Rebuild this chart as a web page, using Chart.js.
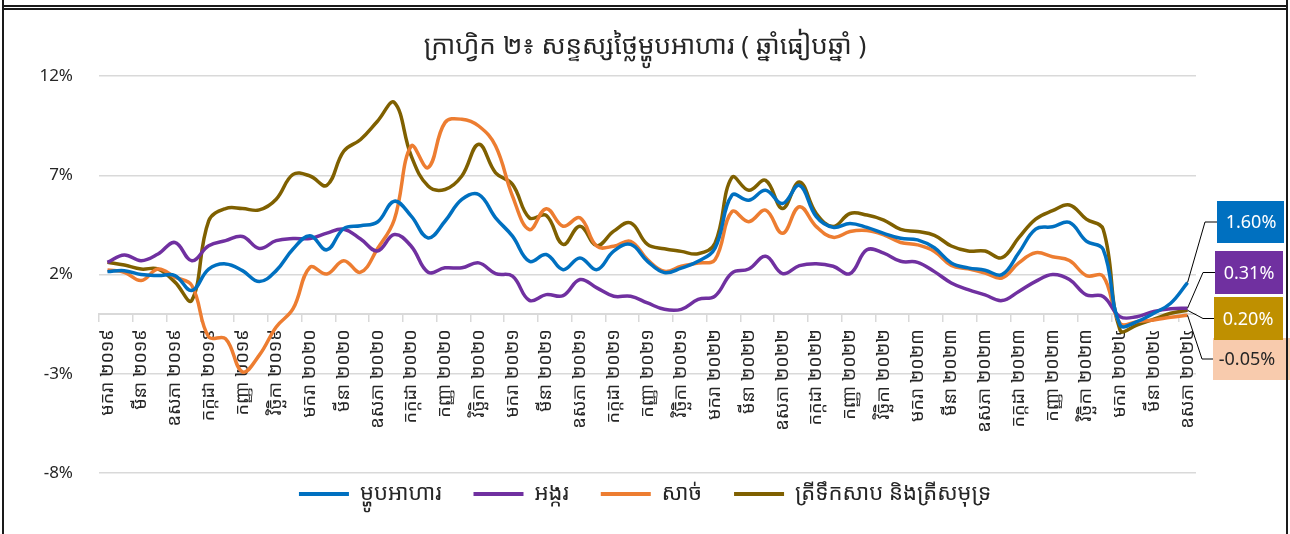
<!DOCTYPE html>
<html>
<head>
<meta charset="utf-8">
<script src="https://cdn.jsdelivr.net/npm/chart.js@4"></script>
<style>
body { margin: 0; background: #fff; }
#wrap { position: relative; width: 1290px; height: 534px; overflow: hidden; }
.ln { position: absolute; background: #1a1a1a; }
</style>
</head>
<body>
<div id="wrap">
  <canvas id="mainCanvas" width="1290" height="534"></canvas>
  <div class="ln" style="left:2px;top:0;width:2px;height:534px"></div>
  <div class="ln" style="left:1286px;top:0;width:2px;height:534px"></div>
  <div class="ln" style="left:2px;top:5px;width:1286px;height:1.5px"></div>
  <div class="ln" style="left:2px;top:8px;width:1286px;height:1.5px"></div>
</div>
<script>
// months Jan 2019 .. May 2024
var months = ['មករា','កុម្ភៈ','មីនា','មេសា','ឧសភា','មិថុនា','កក្កដា','សីហា','កញ្ញា','តុលា','វិច្ឆិកា','ធ្នូ'];
var years = ['២០១៩','២០២០','២០២១','២០២២','២០២៣','២០២៤'];
var labels = [];
for (let y = 0; y < years.length; y++) {
    for (let m = 0; m < 12; m++) {
        if (y === 5 && m > 4) break;
        labels.push(months[m] + ' ' + years[y]);
    }
}

var seriesNames = ['ម្ហូបអាហារ', 'អង្ករ', 'សាច់', 'ត្រីទឹកសាប និងត្រីសមុទ្រ'];

var food = [2.15,2.2,2.0,1.95,1.95,1.2,2.28,2.54,2.2,1.65,2.2,3.29,
            3.96,3.25,4.32,4.46,4.65,5.70,4.95,3.85,4.69,5.79,6.04,4.86,
            3.94,2.67,3.01,2.25,2.84,2.25,3.18,3.52,2.67,2.1,2.33,2.67,
            3.33,6.0,5.75,6.25,5.58,6.5,4.92,4.38,4.58,4.38,4.08,3.83,
            3.75,3.35,2.59,2.34,2.22,2.0,3.10,4.29,4.41,4.63,3.69,3.27,
            -0.54,-0.37,0.05,0.56,1.60];
var rice = [2.62,2.99,2.70,3.04,3.62,2.70,3.45,3.71,3.92,3.32,3.71,3.82,
            3.82,4.09,4.29,3.79,3.19,4.02,3.43,2.12,2.34,2.34,2.59,2.05,
            1.92,0.70,0.99,0.94,1.75,1.33,0.91,0.91,0.57,0.25,0.25,0.75,
            0.92,2.08,2.28,2.92,2.05,2.45,2.55,2.42,2.05,3.25,3.08,2.67,
            2.62,2.15,1.58,1.24,0.98,0.69,1.15,1.66,2.0,1.75,0.98,0.90,
            -0.12,-0.12,0.14,0.28,0.31];
var meat = [2.23,2.12,1.70,2.28,1.87,1.45,-1.14,-1.23,-2.90,-2.06,-0.64,0.28,
            2.37,2.03,2.70,2.12,3.3,4.78,8.48,7.39,9.66,9.83,9.49,8.48,
            5.96,4.27,5.32,4.44,4.86,3.43,3.43,3.68,2.76,2.17,2.42,2.58,
            2.75,5.17,4.67,5.25,4.08,5.42,4.42,3.88,4.17,4.22,4.0,3.62,
            3.5,3.17,2.46,2.29,2.08,1.83,2.59,3.10,2.90,2.71,1.95,1.92,
            -0.46,-0.37,-0.29,-0.15,-0.05];
var fish = [2.62,2.48,2.28,2.28,1.62,0.70,4.71,5.33,5.33,5.26,5.80,7.05,
            6.97,6.50,8.22,8.81,9.73,10.67,7.98,6.46,6.29,6.97,8.57,7.13,
            6.55,4.86,4.98,3.52,4.44,3.46,4.19,4.61,3.52,3.3,3.17,3.05,
            3.58,6.9,6.25,6.75,5.33,6.67,5.08,4.42,5.08,5.0,4.75,4.28,
            4.17,3.98,3.44,3.19,3.19,2.85,3.86,4.80,5.22,5.51,4.80,4.29,
            -0.80,-0.54,-0.25,0.05,0.20];

var yTicks = [-8, -3, 2, 7, 12];

var KH = "'Noto Sans Khmer','Khmer OS System','Khmer OS','Noto Sans',sans-serif";
Chart.defaults.font.family = KH;
Chart.defaults.color = '#262626';

// value boxes at the end of each line (one per dataset, in dataset order)
var endLabels = {
    id: 'endLabels',
    afterDatasetsDraw(chart) {
        const ctx = chart.ctx;
        const boxes = [
            { x: 1217, y: 201, w: 67, h: 42, ex: 1205, fill: '#0070C0', text: '#ffffff' },  // food
            { x: 1215, y: 251, w: 68, h: 43, ex: 1203, fill: '#7030A0', text: '#ffffff' },  // rice
            { x: 1213, y: 338, w: 77, h: 42, ex: 1202, fill: '#F8CBAD', text: '#262626' },  // meat
            { x: 1214, y: 297, w: 69, h: 43, ex: 1203, fill: '#BF9000', text: '#ffffff' }   // fish
        ];
        ctx.save();
        chart.data.datasets.forEach((ds, i) => {
            const meta = chart.getDatasetMeta(i);
            const pt = meta.data[meta.data.length - 1];
            const b = boxes[i];
            const cy = b.y + b.h / 2;
            ctx.strokeStyle = '#000';
            ctx.lineWidth = 1;
            ctx.beginPath();
            ctx.moveTo(pt.x, pt.y);
            ctx.lineTo(b.ex, cy);
            ctx.lineTo(b.x, cy);
            ctx.stroke();
            ctx.fillStyle = b.fill;
            ctx.fillRect(b.x, b.y, b.w, b.h);
            ctx.fillStyle = b.text;
            ctx.font = '18px ' + KH;
            ctx.textAlign = 'center';
            ctx.textBaseline = 'middle';
            const v = ds.data[ds.data.length - 1];
            ctx.fillText(v.toFixed(2) + '%', b.x + 34, cy + 1);
        });
        ctx.restore();
    }
};

function mkSet(name, data, color) {
    return {
        label: name,
        data: data,
        borderColor: color,
        backgroundColor: color,
        borderWidth: 3.5,
        pointRadius: 0,
        tension: 0.4,
        fill: false
    };
}

var ChartObj = new Chart(document.getElementById('mainCanvas'), {
    type: 'line',
    data: {
        labels: labels,
        datasets: [
            mkSet(seriesNames[0], food, '#0070C0'),
            mkSet(seriesNames[1], rice, '#7030A0'),
            mkSet(seriesNames[2], meat, '#ED7D31'),
            mkSet(seriesNames[3], fish, '#7F6000')
        ]
    },
    options: {
        responsive: false,
        animation: false,
        layout: { padding: { left: 0, right: 0, bottom: 19 } },
        plugins: {
            title: {
                display: true,
                text: 'ក្រាហ្វិក ២៖ សន្ទស្សថ្លៃម្ហូបអាហារ ( ឆ្នាំធៀបឆ្នាំ )',
                color: '#262626',
                font: { size: 26, weight: 'normal' },
                padding: { top: 31, bottom: 14 }
            },
            legend: {
                position: 'bottom',
                labels: {
                    boxWidth: 50,
                    boxHeight: 4,
                    padding: 10,
                    color: '#262626',
                    font: { size: 22 },
                    generateLabels: ch => {
                        const items = Chart.defaults.plugins.legend.labels.generateLabels(ch);
                        return items.map((l, k) => Object.assign(l, {
                            lineWidth: 0,
                            text: k < items.length - 1 ? l.text + '\u2002\u2002' : l.text
                        }));
                    }
                }
            },
            tooltip: { enabled: false }
        },
        scales: {
            x: {
                position: { y: 0 },
                offset: true,
                grid: {
                    offset: true,
                    drawOnChartArea: false,
                    tickLength: 7,
                    lineWidth: 1.5,
                    color: c => c.index % 2 === 0 ? '#d9d9d9' : 'rgba(0,0,0,0)'
                },
                border: { color: '#d9d9d9', width: 2 },
                ticks: {
                    autoSkip: false,
                    maxRotation: 90,
                    minRotation: 90,
                    padding: 8,
                    color: '#262626',
                    font: { size: 18 },
                    callback: function (v, i) { return i % 2 === 0 ? this.getLabelForValue(v) : ''; }
                }
            },
            y: {
                min: yTicks[0],
                max: yTicks[yTicks.length - 1],
                afterBuildTicks: s => { s.ticks = yTicks.map(v => ({ value: v })); },
                afterFit: s => { s.width = 99; },
                ticks: {
                    padding: 26,
                    color: '#262626',
                    font: { size: 17 },
                    callback: v => v + '%'
                },
                grid: { color: '#d9d9d9', lineWidth: 1.5, drawTicks: false },
                border: { display: false }
            },
            // empty right-hand strip that holds the value boxes
            side: {
                position: 'right',
                afterFit: s => { s.width = 94; },
                ticks: { display: false },
                grid: { display: false },
                border: { display: false }
            }
        }
    },
    plugins: [endLabels]
});
</script>
</body>
</html>
